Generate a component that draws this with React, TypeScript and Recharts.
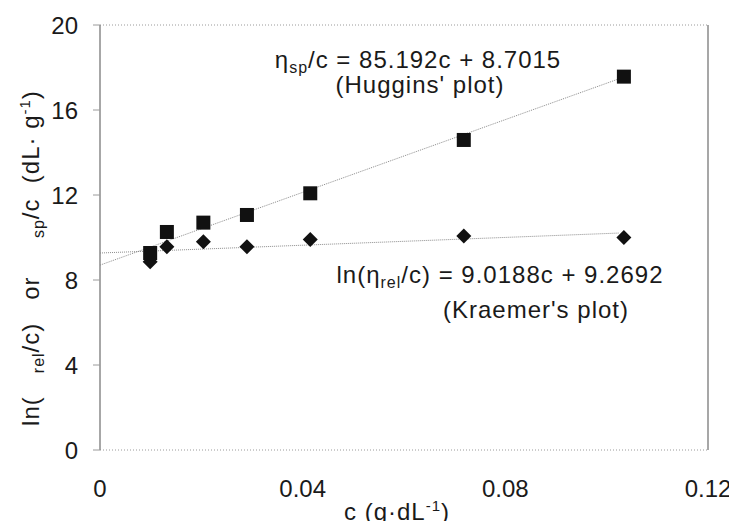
import {
  ComposedChart,
  Scatter,
  Line,
  XAxis,
  YAxis,
  ReferenceLine,
} from "recharts";

// concentration c (g/dL)
const conc = [0.0099, 0.0132, 0.0204, 0.029, 0.0415, 0.0718, 0.1034];
// eta_sp / c  (Huggins)
const huggins = [9.27, 10.26, 10.7, 11.06, 12.08, 14.59, 17.57];
// ln(eta_rel) / c  (Kraemer)
const kraemer = [8.86, 9.57, 9.8, 9.57, 9.91, 10.07, 10.0];

// fitted trend lines, end points
const hugginsFitC = [0, 0.1028];
const hugginsFitV = [8.7, 17.5];
const kraemerFitC = [0, 0.1025];
const kraemerFitV = [9.27, 10.21];

const xTicks = [0, 0.04, 0.08, 0.12];
const yTicks = [0, 4, 8, 12, 16, 20];

const hugginsData = conc.map((c, i) => ({ c, v: huggins[i] }));
const kraemerData = conc.map((c, i) => ({ c, v: kraemer[i] }));
const hugginsFit = hugginsFitC.map((c, i) => ({ c, v: hugginsFitV[i] }));
const kraemerFit = kraemerFitC.map((c, i) => ({ c, v: kraemerFitV[i] }));

const font = "'Liberation Sans', Arial, sans-serif";
const ink = "#1a1a1a";
const sp = "\u00a0";
const fs = 24;
const sub = 16;

const SquareDot = (props: any) => {
  const { cx, cy } = props;
  return <rect x={cx - 7} y={cy - 7} width={14} height={14} fill="#111" />;
};

const DiamondDot = (props: any) => {
  const { cx, cy } = props;
  return (
    <polygon
      points={`${cx},${cy - 7.5} ${cx + 7.5},${cy} ${cx},${cy + 7.5} ${cx - 7.5},${cy}`}
      fill="#111"
    />
  );
};

const App = () => {
  return (
    <div
      style={{
        position: "relative",
        width: 737,
        height: 529,
        margin: -8,
        overflow: "hidden",
        background: "#fff",
        fontFamily: font,
      }}
    >
      <ComposedChart
        width={737}
        height={529}
        margin={{ top: 25, right: 29, left: 40, bottom: 39 }}
      >
        <XAxis
          type="number"
          dataKey="c"
          domain={[0, 0.12]}
          ticks={xTicks}
          tickLine={false}
          tickSize={0}
          tickMargin={30}
          height={40}
          axisLine={{ stroke: "#9a9a9a", strokeDasharray: "1 2" }}
          tick={{ fill: ink, fontSize: fs, fontFamily: font }}
        />
        <YAxis
          type="number"
          dataKey="v"
          domain={[0, 20]}
          ticks={yTicks}
          width={60}
          tickSize={7}
          tickMargin={15}
          tickLine={{ stroke: "#9a9a9a" }}
          axisLine={{ stroke: "#8a8a8a", strokeWidth: 1.5 }}
          tick={{ fill: ink, fontSize: fs, fontFamily: font }}
        />
        <ReferenceLine y={20} stroke="#9a9a9a" strokeDasharray="1 2" />
        <ReferenceLine x={0.12} stroke="#8a8a8a" strokeWidth={1.5} />
        <Line
          data={hugginsFit}
          dataKey="v"
          stroke="#8c8c8c"
          strokeWidth={1}
          strokeDasharray="1 1"
          dot={false}
          activeDot={false}
          isAnimationActive={false}
        />
        <Line
          data={kraemerFit}
          dataKey="v"
          stroke="#8c8c8c"
          strokeWidth={1}
          strokeDasharray="1 1"
          dot={false}
          activeDot={false}
          isAnimationActive={false}
        />
        <Scatter
          data={kraemerData}
          dataKey="v"
          shape={DiamondDot}
          fill="#111"
          isAnimationActive={false}
        />
        <Scatter
          data={hugginsData}
          dataKey="v"
          shape={SquareDot}
          fill="#111"
          isAnimationActive={false}
        />
      </ComposedChart>

      <svg
        width={737}
        height={529}
        style={{ position: "absolute", left: 0, top: 0, pointerEvents: "none" }}
        fontFamily={font}
        fill={ink}
        letterSpacing={1}
      >
        <text x={418} y={68} fontSize={fs} textAnchor="middle">
          η<tspan fontSize={sub} dy={5}>sp</tspan>
          <tspan dy={-5}>/c = 85.192c + 8.7015</tspan>
        </text>
        <text x={420} y={93} fontSize={fs} textAnchor="middle">
          (Huggins' plot)
        </text>
        <text x={500} y={283} fontSize={fs} textAnchor="middle">
          ln(η<tspan fontSize={sub} dy={5}>rel</tspan>
          <tspan dy={-5}>/c) = 9.0188c + 9.2692</tspan>
        </text>
        <text x={536} y={318} fontSize={fs} textAnchor="middle">
          (Kraemer's plot)
        </text>
        <text x={397} y={520} fontSize={fs} textAnchor="middle">
          c (g·dL<tspan fontSize={15} dy={-9}>-1</tspan>
          <tspan dy={9}>)</tspan>
        </text>
        <text
          transform="translate(39, 258) rotate(-90)"
          fontSize={fs}
          textAnchor="middle"
        >
          {"ln(" + sp + sp + sp}
          <tspan fontSize={sub} dy={5}>rel</tspan>
          <tspan dy={-5}>{"/c)" + sp + sp + sp + "or" + sp + sp + sp + sp + sp}</tspan>
          <tspan fontSize={sub} dy={5}>sp</tspan>
          <tspan dy={-5}>{"/c" + sp + sp + "(dL·" + sp + "g"}</tspan>
          <tspan fontSize={15} dy={-9}>-1</tspan>
          <tspan dy={9}>)</tspan>
        </text>
      </svg>
    </div>
  );
};

export default App;
